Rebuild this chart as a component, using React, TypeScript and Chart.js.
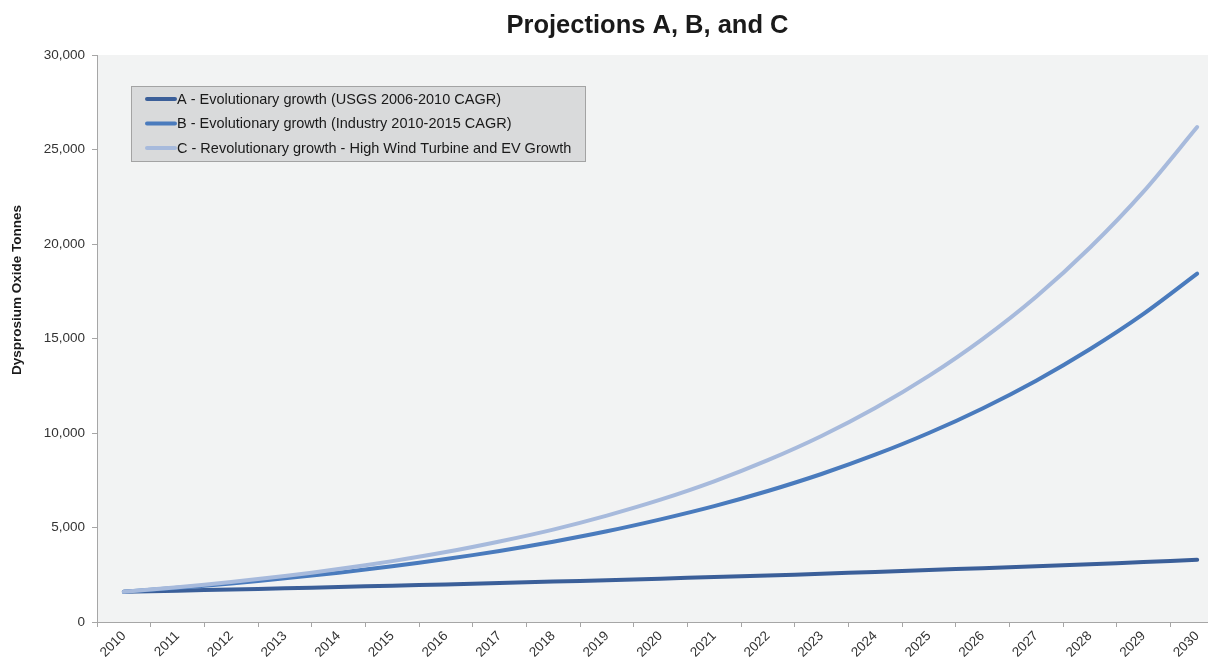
import React, { useEffect, useRef } from "react";
import { Chart, registerables } from "chart.js";

Chart.register(...registerables);

const years = ["2010","2011","2012","2013","2014","2015","2016","2017","2018","2019","2020","2021","2022","2023","2024","2025","2026","2027","2028","2029","2030"];

const seriesA = [1600,1660,1720,1780,1850,1920,1990,2060,2140,2210,2290,2380,2460,2550,2650,2750,2850,2950,3060,3170,3290];
const seriesB = [1600,1810,2040,2310,2610,2950,3330,3760,4250,4800,5430,6130,6930,7830,8850,10000,11300,12770,14430,16300,18430];
const seriesC = [1600,1840,2120,2430,2800,3220,3700,4260,4890,5630,6470,7440,8560,9840,11320,13020,14970,17210,19800,22770,26190];

const seriesNames = [
  "A - Evolutionary growth (USGS 2006-2010 CAGR)",
  "B - Evolutionary growth (Industry 2010-2015 CAGR)",
  "C - Revolutionary growth - High Wind Turbine and EV Growth",
];
const seriesColors = ["#3b5f99", "#4a7bbd", "#a7badc"];
const yTicks = [0, 5000, 10000, 15000, 20000, 25000, 30000];

const titleText = "Projections A, B, and C";
const yTitle = "Dysprosium Oxide Tonnes";
const FONT = "'Liberation Sans', Arial, sans-serif";

export default function App() {
  const ref = useRef<HTMLCanvasElement | null>(null);

  useEffect(() => {
    if (!ref.current) return;
    const bgPlugin = {
      id: "bg",
      beforeDraw(chart: any) {
        const { ctx, chartArea } = chart;
        ctx.save();
        ctx.fillStyle = "#f2f3f3";
        ctx.fillRect(chartArea.left, chartArea.top, chartArea.right - chartArea.left, chartArea.bottom - chartArea.top);
        ctx.restore();
      },
      afterDraw(chart: any) {
        const { ctx } = chart;
        // title
        ctx.save();
        ctx.font = `bold 25.5px ${FONT}`;
        ctx.fillStyle = "#1a1a1a";
        ctx.textAlign = "center";
        ctx.textBaseline = "middle";
        ctx.fillText(titleText, 647.5, 26);
        ctx.restore();
        // y title
        ctx.save();
        ctx.translate(17, 290);
        ctx.rotate(-Math.PI / 2);
        ctx.font = `bold 13.5px ${FONT}`;
        ctx.fillStyle = "#1a1a1a";
        ctx.textAlign = "center";
        ctx.textBaseline = "middle";
        ctx.fillText(yTitle, 0, 0);
        ctx.restore();
        // legend
        ctx.save();
        ctx.fillStyle = "#d9dadb";
        ctx.fillRect(131.5, 86.5, 454, 75);
        ctx.strokeStyle = "#a3a3a3";
        ctx.lineWidth = 1;
        ctx.strokeRect(131.5, 86.5, 454, 75);
        ctx.font = `14.5px ${FONT}`;
        ctx.textBaseline = "middle";
        ctx.textAlign = "left";
        seriesNames.forEach((n, i) => {
          const y = 99 + i * 24.5;
          ctx.strokeStyle = seriesColors[i];
          ctx.lineWidth = 4;
          ctx.lineCap = "round";
          ctx.beginPath();
          ctx.moveTo(147, y);
          ctx.lineTo(175, y);
          ctx.stroke();
          ctx.fillStyle = "#1a1a1a";
          ctx.fillText(n, 177, y + 0.5);
        });
        ctx.restore();
      },
    };

    const mk = (label: string, data: number[], color: string) => ({
      label,
      data,
      borderColor: color,
      backgroundColor: color,
      borderWidth: 4,
      pointRadius: 0,
      tension: 0.3,
      borderCapStyle: "round" as const,
      borderJoinStyle: "round" as const,
    });

    const chart = new Chart(ref.current, {
      type: "line",
      data: {
        labels: years,
        datasets: [
          mk(seriesNames[2], seriesC, seriesColors[2]),
          mk(seriesNames[1], seriesB, seriesColors[1]),
          mk(seriesNames[0], seriesA, seriesColors[0]),
        ],
      },
      options: {
        animation: false,
        responsive: false,
        layout: { padding: { left: 0, right: 70, top: 55, bottom: 0 } },
        plugins: {
          legend: { display: false },
          tooltip: { enabled: false },
          title: { display: false },
        },
        scales: {
          x: {
            type: "category",
            offset: true,
            grid: { offset: true, drawOnChartArea: false, drawTicks: true, tickLength: 5, color: "#a6a6a6" },
            border: { color: "#a6a6a6", width: 1 },
            ticks: {
              color: "#333333",
              font: { family: FONT, size: 13.5 },
              minRotation: 45,
              maxRotation: 45,
              autoSkip: false,
              padding: 1,
            },
            afterFit(s: any) { s.height = 38; },
          },
          y: {
            type: "linear",
            min: 0,
            max: 30000,
            afterBuildTicks(s: any) { s.ticks = yTicks.map((v) => ({ value: v })); },
            grid: { drawOnChartArea: false, drawTicks: true, tickLength: 5, color: "#a6a6a6" },
            border: { color: "#a6a6a6", width: 1 },
            ticks: {
              color: "#333333",
              font: { family: FONT, size: 13.5 },
              padding: 7,
              callback: (v: any) => Number(v).toLocaleString("en-US"),
            },
            afterFit(s: any) { s.width = 97; },
          },
        },
      },
      plugins: [bgPlugin],
    });
    return () => chart.destroy();
  }, []);

  return (
    <div style={{ position: "absolute", left: 0, top: 0, width: 1208, height: 660, overflow: "hidden", background: "#fff" }}>
      <canvas ref={ref} width={1294} height={660} style={{ display: "block", width: 1294, height: 660 }} />
    </div>
  );
}
